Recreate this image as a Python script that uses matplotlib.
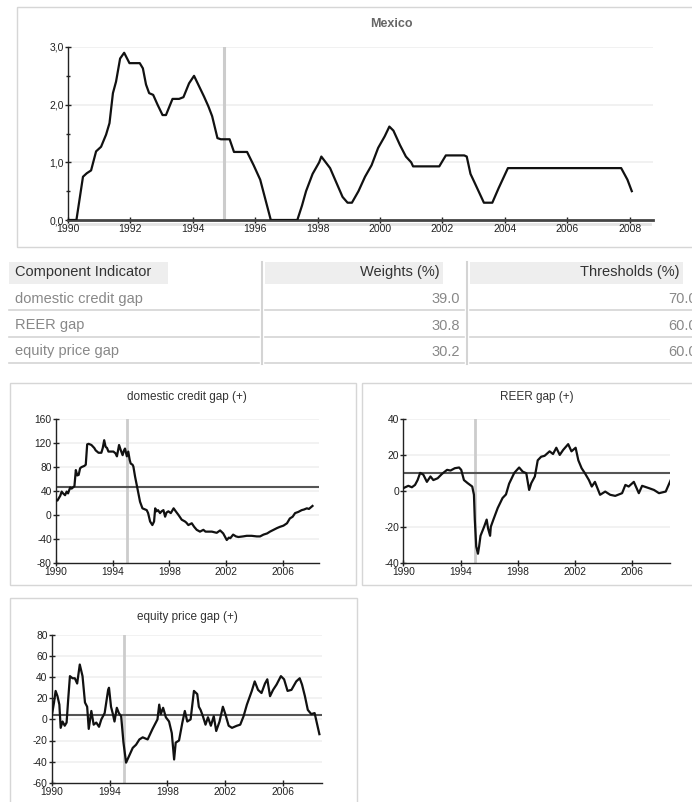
import matplotlib
matplotlib.use("Agg")
import matplotlib.pyplot as plt
from matplotlib.patches import Rectangle

plt.rcParams['font.family'] = ['Liberation Sans', 'DejaVu Sans']

# ---------------- data ----------------
comp_years = [1990.0, 1990.27, 1990.48, 1990.6, 1990.74, 1990.9, 1991.06, 1991.22, 1991.33,
              1991.44, 1991.54, 1991.67, 1991.8, 1991.97, 1992.3, 1992.4, 1992.5, 1992.6,
              1992.73, 1992.87, 1993.03, 1993.14, 1993.35, 1993.56, 1993.7, 1993.88, 1994.04,
              1994.2, 1994.36, 1994.5, 1994.62, 1994.79, 1994.9, 1995.18, 1995.32, 1995.74,
              1995.95, 1996.16, 1996.5, 1997.35, 1997.5, 1997.63, 1997.84, 1998.05, 1998.12,
              1998.26, 1998.4, 1998.6, 1998.8, 1998.96, 1999.1, 1999.31, 1999.52, 1999.73,
              1999.94, 2000.15, 2000.3, 2000.43, 2000.64, 2000.83, 2001.0, 2001.06, 2001.9,
              2002.11, 2002.7, 2002.78, 2002.9, 2003.03, 2003.33, 2003.6, 2003.8, 2004.1,
              2007.73, 2007.93, 2008.07]
comp_vals = [0.0, 0.0, 0.75, 0.81, 0.86, 1.19, 1.27, 1.48, 1.68,
             2.2, 2.4, 2.8, 2.9, 2.72, 2.72, 2.63, 2.35, 2.2,
             2.17, 2.0, 1.82, 1.82, 2.1, 2.1, 2.13, 2.37, 2.5,
             2.32, 2.14, 1.97, 1.8, 1.42, 1.4, 1.4, 1.18, 1.18,
             0.95, 0.7, 0.0, 0.0, 0.25, 0.5, 0.8, 1.0, 1.1,
             1.0, 0.9, 0.65, 0.4, 0.3, 0.3, 0.5, 0.75, 0.95,
             1.25, 1.45, 1.62, 1.55, 1.3, 1.1, 1.0, 0.93, 0.93,
             1.12, 1.12, 1.1, 0.8, 0.65, 0.3, 0.3, 0.55, 0.9,
             0.9, 0.7, 0.5]
comp_yticks = [0, 1, 2, 3]
comp_yticklabels = ['0,0', '1,0', '2,0', '3,0']
comp_xticks = [1990, 1992, 1994, 1996, 1998, 2000, 2002, 2004, 2006, 2008]
crisis_year = 1995.0

credit_years = [1990.0, 1990.1, 1990.2, 1990.3, 1990.4, 1990.5, 1990.64, 1990.75, 1990.85,
                1991.0, 1991.1, 1991.2, 1991.3, 1991.4, 1991.5, 1991.6, 1991.7, 1991.8,
                1992.0, 1992.1, 1992.2, 1992.3, 1992.5, 1992.7, 1992.8, 1993.0, 1993.2,
                1993.3, 1993.4, 1993.5, 1993.6, 1993.7, 1994.05, 1994.2, 1994.3, 1994.45,
                1994.56, 1994.7, 1994.8, 1994.87, 1995.0, 1995.1, 1995.2, 1995.27, 1995.4,
                1995.46, 1995.58, 1995.74, 1995.93, 1996.1, 1996.4, 1996.5, 1996.64, 1996.8,
                1996.92, 1997.0, 1997.1, 1997.2, 1997.34, 1997.45, 1997.58, 1997.7, 1997.8,
                1997.93, 1998.1, 1998.3, 1998.45, 1998.64, 1998.87, 1999.1, 1999.2, 1999.34,
                1999.58, 1999.75, 1999.93, 2000.16, 2000.4, 2000.55, 2000.75, 2001.0, 2001.34,
                2001.58, 2001.8, 2002.05, 2002.2, 2002.3, 2002.5, 2002.7, 2002.87, 2003.2,
                2003.46, 2003.8, 2004.17, 2004.4, 2004.64, 2004.9, 2005.1, 2005.35, 2005.6,
                2005.8, 2006.05, 2006.3, 2006.5, 2006.7, 2006.87, 2007.1, 2007.34, 2007.5,
                2007.7, 2007.85, 2008.1]
credit_vals = [25, 24, 28, 32, 39, 36, 33, 39, 36,
               46, 44, 46, 48, 75, 66, 67, 78, 80,
               82, 84, 118, 119, 117, 112, 108, 104, 104,
               112, 125, 114, 112, 106, 106, 103, 98, 117,
               109, 100, 108, 111, 98, 106, 92, 86, 84,
               81, 64, 45, 22, 11, 8, 3, -11, -17,
               -11, 11, 6, 8, 3, 6, 8, -3, 4,
               6, 3, 11, 6, 0, -8, -11, -13, -17,
               -14, -20, -25, -28, -25, -28, -28, -28, -30,
               -26, -31, -42, -38, -39, -33, -36, -37, -36,
               -35, -35, -36, -36, -33, -31, -28, -25, -22,
               -20, -18, -14, -6, -3, 3, 5, 8, 9,
               11, 10, 15]
credit_threshold = 47
credit_yticks = [-80, -40, 0, 40, 80, 120, 160]

reer_years = [1990.0, 1990.35, 1990.6, 1990.82, 1991.0, 1991.18, 1991.4, 1991.65, 1991.9,
              1992.1, 1992.4, 1992.7, 1993.06, 1993.3, 1993.6, 1993.9, 1994.05, 1994.24,
              1994.5, 1994.82, 1994.94, 1995.0, 1995.1, 1995.22, 1995.3, 1995.4, 1995.65,
              1995.83, 1995.93, 1996.07, 1996.12, 1996.3, 1996.6, 1996.94, 1997.18, 1997.4,
              1997.76, 1998.1, 1998.35, 1998.6, 1998.8, 1998.95, 1999.2, 1999.4, 1999.64,
              1999.88, 2000.23, 2000.47, 2000.7, 2000.94, 2001.18, 2001.53, 2001.76, 2002.05,
              2002.24, 2002.47, 2002.7, 2002.98, 2003.18, 2003.4, 2003.76, 2004.12, 2004.47,
              2004.82, 2005.3, 2005.53, 2005.76, 2006.12, 2006.47, 2006.7, 2007.18, 2007.53,
              2007.88, 2008.35, 2008.7]
reer_vals = [1.5, 2.8, 2.0, 3.3, 6.0, 10.0, 9.0, 5.0, 8.0,
             6.0, 7.0, 9.4, 11.7, 11.3, 12.6, 13.0, 11.7, 6.0,
             4.3, 2.4, -2.2, -16.0, -31.0, -35.0, -31.0, -25.0, -20.0,
             -16.0, -21.0, -25.0, -20.0, -16.0, -9.6, -4.0, -2.0, 4.0,
             10.0, 13.0, 10.7, 9.8, 0.5, 4.3, 8.0, 17.0, 19.0,
             19.5, 22.0, 20.5, 24.0, 20.0, 22.8, 26.0, 22.0, 24.0,
             17.0, 12.6, 9.8, 6.0, 2.4, 5.0, -2.2, -0.4, -2.2,
             -2.8, -1.3, 3.3, 2.4, 5.0, -1.3, 2.8, 1.5, 0.5,
             -1.3, -0.4, 6.0]
reer_threshold = 9.7
reer_yticks = [-40, -20, 0, 20, 40]

equity_years = [1990.0, 1990.16, 1990.27, 1990.4, 1990.53, 1990.62, 1990.75, 1990.9, 1991.03,
                1991.14, 1991.26, 1991.44, 1991.6, 1991.76, 1991.94, 1992.13, 1992.3, 1992.45,
                1992.56, 1992.74, 1992.9, 1993.08, 1993.27, 1993.43, 1993.66, 1993.9, 1993.96,
                1994.1, 1994.23, 1994.34, 1994.5, 1994.64, 1994.8, 1994.96, 1995.14, 1995.37,
                1995.6, 1995.83, 1996.06, 1996.29, 1996.63, 1996.97, 1997.31, 1997.43, 1997.54,
                1997.7, 1997.89, 1998.11, 1998.3, 1998.46, 1998.57, 1998.8, 1999.03, 1999.2,
                1999.37, 1999.6, 1999.83, 2000.06, 2000.17, 2000.29, 2000.45, 2000.63, 2000.8,
                2001.0, 2001.2, 2001.37, 2001.6, 2001.83, 2002.0, 2002.23, 2002.46, 2002.8,
                2003.03, 2003.26, 2003.49, 2003.83, 2004.03, 2004.26, 2004.5, 2004.74, 2004.9,
                2005.09, 2005.3, 2005.54, 2005.84, 2006.06, 2006.3, 2006.57, 2006.9, 2007.14,
                2007.3, 2007.5, 2007.7, 2007.94, 2008.17, 2008.5]
equity_vals = [3, 16, 27, 22, 14, -8, -2, -6, -3,
               19, 41, 39, 39, 34, 52, 41, 16, 12,
               -9, 8, -5, -3, -7, 0, 6, 28, 30,
               12, 5, -2, 11, 6, 3, -22, -41, -34,
               -27, -24, -19, -17, -19, -9, 0, 14, 5,
               11, 2, -2, -13, -38, -22, -20, -3, 8,
               -2, 0, 27, 24, 12, 9, 3, -5, 2,
               -6, 3, -11, -2, 12, 5, -6, -8, -6,
               -5, 3, 14, 27, 36, 28, 25, 34, 38,
               22, 28, 33, 41, 38, 27, 28, 36, 39,
               33, 22, 9, 5, 6, -14]
equity_threshold = 4
equity_yticks = [-60, -40, -20, 0, 20, 40, 60, 80]

small_xticks = [1990, 1994, 1998, 2002, 2006]

table_header = ['Component Indicator', 'Weights (%)', 'Thresholds (%)']
table_names = ['domestic credit gap', 'REER gap', 'equity price gap']
table_weights = ['39.0', '30.8', '30.2']
table_thresholds = ['70.0', '60.0', '60.0']

# ---------------- layout helpers ----------------
W, H = 692, 802
fig = plt.figure(figsize=(W / 100, H / 100), dpi=100)
fig.patch.set_facecolor('white')


def rect(l, t, r, b):
    return [l / W, 1 - b / H, (r - l) / W, (b - t) / H]


ov = fig.add_axes([0, 0, 1, 1], zorder=0)
ov.set_xlim(0, W)
ov.set_ylim(H, 0)
ov.axis('off')

border = '#d6d6d6'
# panel borders
ov.add_patch(Rectangle((17, 7), 760, 240, fill=False, ec=border, lw=1))
ov.add_patch(Rectangle((10, 383), 346, 202, fill=False, ec=border, lw=1))
ov.add_patch(Rectangle((362, 383), 400, 202, fill=False, ec=border, lw=1))
ov.add_patch(Rectangle((10, 598), 347, 240, fill=False, ec=border, lw=1))

# ---------------- top chart ----------------
ax = fig.add_axes(rect(68, 47, 653, 220), zorder=2)
ax.patch.set_alpha(0)
for yv in comp_yticks[1:]:
    ax.axhline(yv, color='#efefef', lw=1.2, zorder=0)
ax.axvline(crisis_year, color='#cccccc', lw=2.2, zorder=1)
ax.plot(comp_years, comp_vals, color='#111111', lw=1.6, zorder=3, solid_joinstyle='round')
ax.set_xlim(1990, 2008.75)
ax.set_ylim(0, 3)
ax.set_yticks(comp_yticks)
ax.set_yticklabels(comp_yticklabels)
ax.set_yticks([0.5, 1.5, 2.5], minor=True)
ax.set_xticks(comp_xticks)
ax.set_xticklabels([str(v) for v in comp_xticks])
for s in ['top', 'right']:
    ax.spines[s].set_visible(False)
ax.spines['left'].set_color('#222222')
ax.spines['left'].set_linewidth(1)
ax.spines['bottom'].set_color('#444444')
ax.spines['bottom'].set_linewidth(2)
ax.tick_params(axis='both', which='major', direction='inout', length=4, width=1,
               labelsize=7.5, pad=1, colors='#222222')
ax.tick_params(axis='y', which='minor', direction='inout', length=3, width=1, colors='#222222')
ov.plot([68, 650], [223.5, 223.5], color='#e4e4e4', lw=2)
ov.text(391, 24, 'Mexico', ha='center', va='center', fontsize=9, fontweight='bold', color='#666666')

# ---------------- table ----------------
hdr_bg = '#eeeeee'
ov.add_patch(Rectangle((9, 262), 159, 22, fc=hdr_bg, ec='none'))
ov.add_patch(Rectangle((265, 262), 178, 22, fc=hdr_bg, ec='none'))
ov.add_patch(Rectangle((470, 262), 213, 22, fc=hdr_bg, ec='none'))
ov.text(15, 272, table_header[0], ha='left', va='center', fontsize=10.5, color='#333333')
ov.text(440, 272, table_header[1], ha='right', va='center', fontsize=10.5, color='#333333')
ov.text(679, 272, table_header[2], ha='right', va='center', fontsize=10.5, color='#333333')
line_c = '#d4d4d4'
ov.plot([262, 262], [262, 364], color=line_c, lw=1.5)
ov.plot([467, 467], [262, 364], color=line_c, lw=1.5)
row_y = [299, 325.5, 351.5]
row_bottom = [310, 336.5, 363]
for i in range(3):
    for (a, b) in [(9, 259), (265, 464), (470, 700)]:
        ov.plot([a, b], [row_bottom[i], row_bottom[i]], color=line_c, lw=1.2)
    ov.text(15, row_y[i], table_names[i], ha='left', va='center', fontsize=10.5, color='#888888')
    ov.text(460, row_y[i], table_weights[i], ha='right', va='center', fontsize=10.5, color='#888888')
    ov.text(697, row_y[i], table_thresholds[i], ha='right', va='center', fontsize=10.5, color='#888888')
for (a, b) in [(265, 287), (470, 287)]:
    pass


# ---------------- small panels ----------------
def panel(px, years, vals, thr, yticks, xend, title, tx, ty):
    a = fig.add_axes(rect(*px), zorder=2)
    a.patch.set_alpha(0)
    for yv in yticks[1:]:
        a.axhline(yv, color='#efefef', lw=1.1, zorder=0)
    a.axvline(crisis_year, color='#cccccc', lw=2.0, zorder=1)
    a.axhline(thr, color='#555555', lw=1.5, zorder=2)
    a.plot(years, vals, color='#111111', lw=1.6, zorder=3)
    a.set_xlim(1990, xend)
    a.set_ylim(yticks[0], yticks[-1])
    a.set_yticks(yticks)
    a.set_yticklabels([str(v) for v in yticks])
    a.set_xticks(small_xticks)
    a.set_xticklabels([str(v) for v in small_xticks])
    for s in ['top', 'right']:
        a.spines[s].set_visible(False)
    for s in ['left', 'bottom']:
        a.spines[s].set_color('#222222')
        a.spines[s].set_linewidth(1)
    a.tick_params(axis='both', direction='inout', length=4, width=1, labelsize=7.4,
                  pad=1, colors='#222222')
    ov.text(tx, ty, title, ha='center', va='center', fontsize=8.5, color='#333333')
    return a


panel((56, 419.3, 319.3, 562.7), credit_years, credit_vals, credit_threshold,
      credit_yticks, 2008.58, 'domestic credit gap (+)', 187, 397)
panel((403.3, 419, 670, 562.7), reer_years, reer_vals, reer_threshold,
      reer_yticks, 2008.65, 'REER gap (+)', 537, 397)
panel((51.7, 635, 321.7, 782.7), equity_years, equity_vals, equity_threshold,
      equity_yticks, 2008.66, 'equity price gap (+)', 187, 617)

fig.savefig('out.png', dpi=100, facecolor='white')
